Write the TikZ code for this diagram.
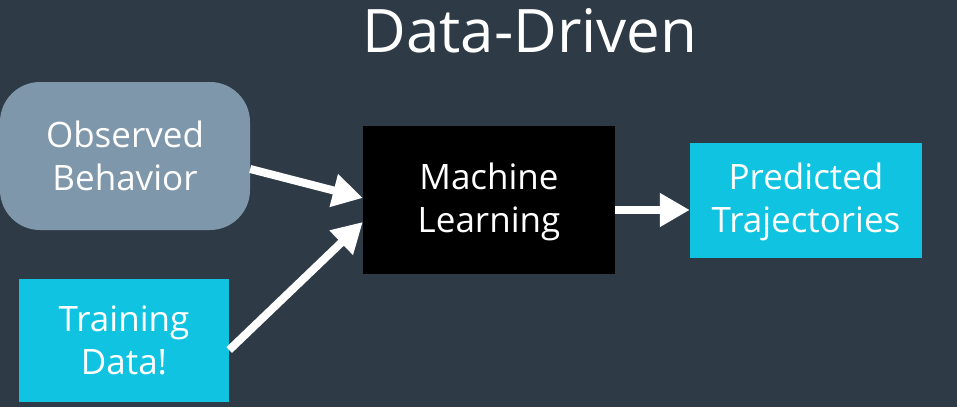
\documentclass[tikz,border=0pt]{standalone}
\usepackage{fontspec}
\setmainfont{Open Sans}
\usetikzlibrary{arrows.meta}
\definecolor{slate}{HTML}{2E3B47}
\definecolor{greyblue}{HTML}{7F97AB}
\definecolor{cyanbox}{HTML}{10C3E0}
\tikzset{
  flowbox/.style={text=white, align=center, font=\fontsize{35}{43}\selectfont, inner sep=0pt},
  flowarrow/.style={white, line width=8pt, -{Triangle[length=30pt, width=32pt]}}
}
\begin{document}
\begin{tikzpicture}[x=1pt, y=-1pt]

\fill[slate] (0,0) rectangle (957,407);

\node[text=white, font=\fontsize{60}{64}\selectfont] (title) at (530,31) {Data-Driven};

\begin{scope}[every node/.style={flowbox}]
\node[fill=greyblue, rounded corners=40pt, minimum width=250pt, minimum height=148pt] (obs) at (125,156) {Observed\\Behavior};
\node[fill=cyanbox, minimum width=210pt, minimum height=123pt] (td) at (124,340) {Training\\Data!};
\node[fill=black, minimum width=252pt, minimum height=148pt, text depth=4pt] (ml) at (489,200) {Machine\\Learning};
\node[fill=cyanbox, minimum width=232pt, minimum height=115pt, text depth=4pt] (pt) at (806,200) {Predicted\\Trajectories};
\end{scope}

\draw[flowarrow] ([yshift=-13pt]obs.east) -- ([yshift=2pt]ml.west);
\draw[flowarrow] ([yshift=-10pt]td.east) -- ([yshift=-22pt]ml.west);
\draw[flowarrow] ([yshift=-10pt]ml.east) -- ([yshift=-10pt]pt.west);

\end{tikzpicture}
\end{document}
